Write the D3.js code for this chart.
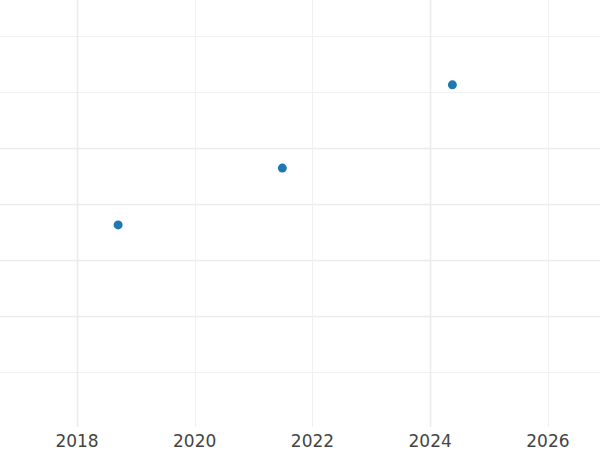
<!DOCTYPE html>
<html>
<head>
<meta charset="utf-8">
<title>Scatter</title>
<script src="https://d3js.org/d3.v7.min.js"></script>
<style>
body { margin: 0; background: #fff; }
text { font-family: "DejaVu Sans", sans-serif; }
</style>
</head>
<body>
<div id="chart"></div>
<script>
// data
var dates = ["2018-09-13", "2021-06-28", "2024-05-18"];
var values = [3.625, 4.64, 6.125];
var xTicks = [2018, 2020, 2022, 2024, 2026];
var yTicks = [1, 2, 3, 4, 5, 6, 7];
var xMajor = [2018, 2024];
var yMajor = [2, 3, 4, 5];

var w = 600, h = 450, plotBottom = 427;

var parse = d3.timeParse("%Y-%m-%d");
var yr = function(y){ return new Date(y, 0, 1); };

var x = d3.scaleTime()
    .domain([new Date(2016, 8, 10), new Date(2026, 10, 20)])
    .range([0, w]);
var y = d3.scaleLinear()
    .domain([0, 7.64])
    .range([428, 0]);

var svg = d3.select("#chart").append("svg")
    .attr("width", w)
    .attr("height", h);

// horizontal grid
svg.append("g").selectAll("line")
    .data(yTicks)
  .enter().append("line")
    .attr("x1", 0).attr("x2", w)
    .attr("y1", function(d){ return Math.round(y(d)) + 0.5; })
    .attr("y2", function(d){ return Math.round(y(d)) + 0.5; })
    .attr("stroke", function(d){ return yMajor.indexOf(d) >= 0 ? "#ececec" : "#f0f0f0"; })
    .attr("stroke-width", function(d){ return yMajor.indexOf(d) >= 0 ? 1.6 : 1; });

// vertical grid
svg.append("g").selectAll("line")
    .data(xTicks)
  .enter().append("line")
    .attr("x1", function(d){ return Math.round(x(yr(d))) + 0.5; })
    .attr("x2", function(d){ return Math.round(x(yr(d))) + 0.5; })
    .attr("y1", 0).attr("y2", plotBottom)
    .attr("stroke", function(d){ return xMajor.indexOf(d) >= 0 ? "#ececec" : "#f0f0f0"; })
    .attr("stroke-width", function(d){ return xMajor.indexOf(d) >= 0 ? 1.6 : 1; });

// x labels
svg.append("g").selectAll("text")
    .data(xTicks)
  .enter().append("text")
    .attr("x", function(d){ return x(yr(d)); })
    .attr("y", 447)
    .attr("text-anchor", "middle")
    .attr("font-size", 17)
    .attr("fill", "#444")
    .text(function(d){ return d; });

// points
svg.append("g").selectAll("circle")
    .data(dates.map(function(d, i){ return {date: parse(d), value: values[i]}; }))
  .enter().append("circle")
    .attr("cx", function(d){ return x(d.date); })
    .attr("cy", function(d){ return y(d.value); })
    .attr("r", 4.5)
    .attr("fill", "#1f77b4");
</script>
</body>
</html>
